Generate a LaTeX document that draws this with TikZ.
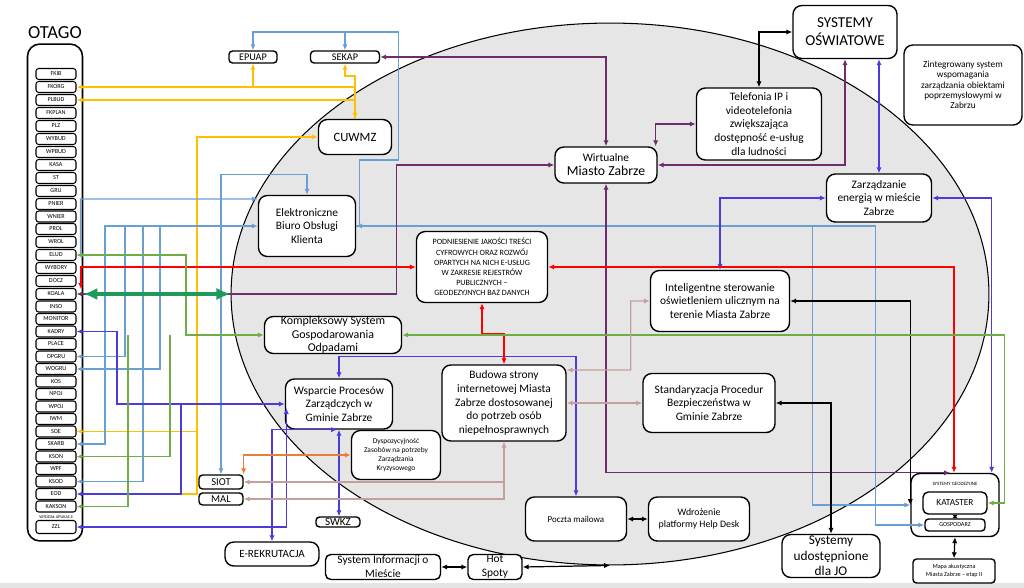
\documentclass[tikz,border=0pt]{standalone}
\usepackage{fontspec}
\setmainfont{Carlito}
\usepackage{tikz}
\usetikzlibrary{shapes.geometric,arrows.meta}

\definecolor{ellgray}{HTML}{E7E6E6}
\definecolor{bandgray}{HTML}{E4E4E4}
\definecolor{lineyel}{HTML}{FFC000}
\definecolor{lineblue}{HTML}{6A9FD4}
\definecolor{linepur}{HTML}{6E2C6B}
\definecolor{lineind}{HTML}{4B3BDB}
\definecolor{linegrn}{HTML}{70AD47}
\definecolor{linedkg}{HTML}{1E9B58}
\definecolor{linerose}{HTML}{C4A09C}
\definecolor{lineorg}{HTML}{ED7D31}

\newcommand{\fmain}{\fontsize{6.5}{7.9}\selectfont}
\newcommand{\fbig}{\fontsize{7.8}{9.2}\selectfont}
\newcommand{\fsmall}{\fontsize{5.3}{5.9}\selectfont}
\newcommand{\ftiny}{\fontsize{4.2}{5.1}\selectfont}
\newcommand{\fmini}{\fontsize{3.5}{4}\selectfont}

\begin{document}
\begin{tikzpicture}[x=0.02cm, y=-0.02cm, >={Latex[length=3.4pt,width=3pt]},
  bigbox/.style={draw, rounded corners=5pt, fill=white, align=center,
    inner sep=1pt, line width=0.8pt, font=\fmain},
  tagbox/.style={draw, rounded corners=2pt, fill=white, align=center,
    inner sep=0pt, line width=0.8pt},
  itembox/.style={draw, rounded corners=1.5pt, fill=white, minimum width=0.8cm,
    minimum height=0.22cm, inner sep=0pt, line width=0.6pt, font=\fmini},
  yl/.style={lineyel, line width=1pt},
  lb/.style={lineblue, line width=0.7pt},
  pu/.style={linepur, line width=0.7pt},
  bk/.style={black, line width=0.7pt},
  ind/.style={lineind, line width=0.8pt},
  rd/.style={red, line width=1pt},
  gr/.style={linegrn, line width=0.7pt},
  ro/.style={linerose, line width=0.7pt},
  og/.style={lineorg, line width=0.8pt},
  dg/.style={linedkg, line width=2.2pt,
    {Latex[length=8pt,width=7pt]}-{Latex[length=8pt,width=7pt]}}]

\useasboundingbox (0,0) rectangle (1024,588);
\fill[bandgray] (0,583) rectangle (1024,588);

% the big ellipse
\node (ell) [draw, ellipse, fill=ellgray, minimum width=15.16cm,
    minimum height=10.84cm, inner sep=0pt, line width=0.6pt] at (610,294) {};

% OTAGO column
\node (otagot) [font=\fontsize{10.5}{12}\selectfont] at (55,33) {OTAGO};
\node (otago) [draw, rounded corners=7pt, line width=0.9pt, minimum width=1.1cm,
    minimum height=9.94cm] at (55,292.5) {};
\foreach \nm/\yy in {FKIB/74, FKORG/87, PLBUD/100, FKPLAN/113, PLZ/126,
    WYBUD/139, WPBUD/152, KASA/165, ST/178, GRU/191, PNIER/204, WNIER/216.5,
    PROL/229, WROL/242, ELUD/255, WYBORY/268, DOCZ/281, KOALA/294,
    INSO/306.5, MONITOR/319, KADRY/331.5, PLACE/344, OPGRU/356.5, WOGRU/369,
    KOS/381.5, NPOJ/394, WPOJ/406.5, IWM/419, SOE/431.5, SKARB/444,
    KSON/456.5, WPF/469, KSOD/481.5, EOD/494, KAKSON/506.5}
  \node (o-\nm) [itembox] at (56,\yy) {\nm};
\node (zzllab) [font=\fontsize{2.4}{3}\selectfont] at (56,517) {WYDZIAŁ APLIKACJI};
\node (o-ZZL) [itembox, minimum height=0.26cm] at (56,527) {ZZL};

% boxes inside and round the ellipse
\node (wmz) [bigbox, minimum width=2.04cm, minimum height=0.72cm] at (606,165)
    {Wirtualne\\{\fbig Miasto Zabrze}};
\path (wmz)+(153,-41) node (tel) [bigbox, minimum width=2.5cm, minimum height=1.44cm]
    {Telefonia IP i\\videotelefonia\\zwiększająca\\dostępność e-usług\\dla ludności};
\path (tel)+(86,-92) node (osw) [bigbox, minimum width=2.08cm, minimum height=1.06cm,
    font=\fontsize{8.6}{10.4}\selectfont] {SYSTEMY\\OŚWIATOWE};
\path (osw)+(118,53) node (zint) [bigbox, minimum width=2.36cm, minimum height=1.6cm,
    font=\fsmall] {Zintegrowany system\\wspomagania\\zarządzania obiektami\\poprzemysłowymi w\\Zabrzu};
\path (osw)+(34,166) node (energ) [bigbox, minimum width=2.1cm, minimum height=0.96cm]
    {Zarządzanie\\energią w mieście\\Zabrze};
\path (energ)+(-159,103) node (intel) [bigbox, minimum width=2.78cm, minimum height=1.22cm]
    {Inteligentne sterowanie\\oświetleniem ulicznym na\\terenie Miasta Zabrze};
\path (intel)+(-11,102) node (stand) [bigbox, minimum width=2.64cm, minimum height=1.18cm]
    {Standaryzacja Procedur\\Bezpieczeństwa w\\Gminie Zabrze};
\path (wmz)+(-124,102) node (podn) [bigbox, minimum width=2.62cm, minimum height=1.42cm,
    font=\fontsize{4.6}{5.8}\selectfont]
    {PODNIESIENIE JAKOŚCI TREŚCI\\CYFROWYCH ORAZ ROZWÓJ\\OPARTYCH NA NICH E-USŁUG\\W ZAKRESIE REJESTRÓW\\PUBLICZNYCH –\\GEODEZYJNYCH BAZ DANYCH};
\path (podn)+(22,136) node (bud) [bigbox, minimum width=2.48cm, minimum height=1.52cm]
    {Budowa strony\\internetowej Miasta\\Zabrze dostosowanej\\do potrzeb osób\\niepełnosprawnych};
\path (podn)+(-175,-41) node (ebok) [bigbox, minimum width=1.94cm, minimum height=1.22cm]
    {Elektroniczne\\Biuro Obsługi\\Klienta};
\path (ebok)+(48,-89) node (cuwmz) [bigbox, minimum width=1.46cm, minimum height=0.7cm,
    font=\fontsize{7.2}{8}\selectfont] {CUWMZ};
\path (cuwmz)+(-10,-80) node (sekap) [tagbox, minimum width=1.38cm, minimum height=0.24cm,
    font=\fontsize{5.8}{6}\selectfont] {SEKAP};
\path (sekap)+(-92,0) node (epuap) [tagbox, minimum width=0.96cm, minimum height=0.24cm,
    font=\fontsize{5.8}{6}\selectfont] {EPUAP};
\path (ebok)+(26,109) node (ksgo) [bigbox, minimum width=2.74cm, minimum height=0.74cm,
    inner sep=0pt, font=\fontsize{6.8}{7.6}\selectfont]
    {Kompleksowy System\\Gospodarowania\\Odpadami};
\path (ksgo)+(6,69) node (wpz) [bigbox, minimum width=2.14cm, minimum height=1.0cm]
    {Wsparcie Procesów\\Zarządczych w\\Gminie Zabrze};
\path (wpz)+(57,51) node (dysp) [bigbox, minimum width=1.78cm, minimum height=0.98cm,
    font=\ftiny] {Dyspozycyjność\\Zasobów na potrzeby\\Zarządzania\\Kryzysowego};
\path (wpz)+(-118,78) node (siot) [tagbox, minimum width=0.88cm, minimum height=0.28cm,
    font=\fontsize{6}{6}\selectfont] {SIOT};
\path (siot)+(0,17) node (mal) [tagbox, minimum width=0.88cm, minimum height=0.24cm,
    font=\fontsize{6}{6}\selectfont] {MAL};
\path (wpz)+(-1,118) node (swkz) [tagbox, minimum width=0.88cm, minimum height=0.2cm,
    font=\fontsize{6.3}{6.3}\selectfont] {SWKZ};
\path (wpz)+(-67,150) node (erek) [bigbox, minimum width=1.88cm, minimum height=0.48cm,
    font=\fontsize{6.3}{7}\selectfont] {E-REKRUTACJA};
\path (erek)+(111,13) node (sim) [bigbox, rounded corners=3pt, minimum width=2.3cm,
    minimum height=0.5cm, inner sep=0pt] {System Informacji o\\Mieście};
\path (sim)+(112,0) node (hot) [bigbox, rounded corners=3pt, minimum width=1.08cm,
    minimum height=0.5cm, inner sep=0pt] {Hot\\Spoty};
\path (bud)+(72,116) node (poczta) [bigbox, minimum width=2.02cm, minimum height=0.88cm,
    font=\fontsize{5.1}{6}\selectfont] {Poczta mailowa};
\path (poczta)+(123,0) node (help) [bigbox, minimum width=2.02cm, minimum height=0.88cm,
    font=\fontsize{5.6}{7}\selectfont] {Wdrożenie\\platformy Help Desk};
\path (stand)+(122,153) node (sjo) [bigbox, minimum width=1.96cm, minimum height=0.86cm,
    inner sep=0pt, font=\fontsize{7.6}{8.8}\selectfont] {Systemy\\udostępnione\\dla JO};
\path (energ)+(76,307) node (geo) [bigbox, minimum width=1.76cm, minimum height=1.26cm] {};
\path (geo.north)+(0,11) node (geolab) [font=\fontsize{2.8}{3}\selectfont] {SYSTEMY GEODEZYJNE};
\path (geo)+(0,-2) node (kat) [tagbox, rounded corners=3pt, minimum width=1.28cm,
    minimum height=0.44cm, font=\fontsize{5.3}{6}\selectfont] {KATASTER};
\path (geo)+(0,20) node (gosp) [tagbox, minimum width=1.2cm, minimum height=0.24cm,
    font=\fontsize{3.5}{4}\selectfont] {GOSPODARZ};
\path (geo)+(-1,66) node (mapa) [tagbox, rounded corners=2pt, minimum width=1.64cm,
    minimum height=0.48cm, font=\fontsize{3.5}{4.4}\selectfont]
    {Mapa akustyczna\\Miasta Zabrze – etap II};

% vertical buses on the left
\coordinate (yv) at (197,0);
\coordinate (lb1) at (105,0);
\coordinate (lb2) at (125,0);
\coordinate (lb3) at (143,0);
\coordinate (lb4) at (160,0);
\coordinate (gv1) at (128,0);
\coordinate (gv2) at (170,0);
\coordinate (gv3) at (186,0);
\coordinate (iv1) at (117,0);
\coordinate (iv2) at (181,0);

% yellow
\draw[yl,<->] (cuwmz.north) |- (o-FKORG.east);
\draw[yl,->] (cuwmz.north |- o-PLBUD) -- (o-PLBUD.east);
\draw[yl,->] (epuap.south |- o-FKORG) -- (epuap.south);
\draw[yl,->] (cuwmz.north) -- ++(0,-43) -| (sekap.south);
\draw[yl,<-] (cuwmz.west) -| (yv |- o-EOD) -- (iv2 |- o-EOD);
\draw[yl,->] (yv |- o-SOE) -- (o-SOE.east);

% light blue
\draw[lb,<->] (o-SKARB.east) -| (lb1 |- ebok.west) -- (ebok.west);
\draw[lb,->] (lb2 |- ebok.west) |- (o-OPGRU.east);
\draw[lb,->] (lb3 |- ebok.west) |- (o-KSOD.east);
\draw[lb,->] (lb4 |- ebok.west) |- (o-WOGRU.east);
\draw[lb,<->] (o-ELUD.east) -| ++(4,-56) -- ([yshift=0.54cm]ebok.west);
\draw[lb,<->] (siot.north) |- ([yshift=0.4cm]ebok.north) -- (ebok.north);
\draw[lb,<->] (ebok.east) -- ++(3,0) |- ++(39,-66) -- ++(0,-128) -| (epuap.north);
\draw[lb,->] (sekap.north) ++(0,-19) -- (sekap.north);
\draw[lb,->] (ebok.east) -| ++(519,299) -- (gosp.west);
\draw[lb,->] (ebok.east) ++(456,0) |- (geo.west);

% purple
\draw[pu,<->] (wmz.north) |- (sekap.east);
\draw[pu,<->] (o-KOALA.east) -| ++(320,-129) -- (wmz.west);
\draw[pu,<->] (wmz.south) |- ([xshift=-0.1cm]geo.north);
\draw[pu,<->] (osw.south) |- (wmz.east);
\draw[pu,<->] (tel.west) -| ([xshift=-0.04cm]wmz.north east);

% black
\draw[bk,<->] (osw.west) -| (tel.north);
\draw[bk,<->] (intel.east) -| (geo.west);
\draw[bk,<->] (stand.east) -| (sjo.north);
\draw[bk,<->] (poczta.east) -- (help.west);
\draw[bk,<->] (sim.east) -- (hot.west);
\draw[bk,<->] (hot.east) -- (ell.south);
\draw[bk,{Latex[length=2pt,width=3pt]}-{Latex[length=2pt,width=3pt]}] (kat.south) -- (gosp.north);
\draw[bk,<->] (geo.south) -- (mapa.north);

% indigo
\draw[ind,<->] (energ.north |- osw.south) -- (energ.north);
\draw[ind,<->] (energ.west) -| (intel.north);
\draw[ind,<->] (energ.east) -| ([xshift=-0.16cm]geo.north east);
\draw[ind,<->] (poczta.north) |- ([yshift=0.44cm]wpz.north) -- (wpz.north);
\draw[ind,<->] (o-KADRY.east) -| (iv1 |- wpz.west) -- (wpz.west);
\draw[ind,->] (iv2 |- wpz.west) |- (o-EOD.east);
\draw[ind,<->] (o-ZZL.east) -| ([xshift=0.03cm,yshift=-0.08cm]wpz.west);
\draw[ind,<->] (erek.north) |- ([xshift=-0.04cm]wpz.south);
\draw[ind,<->] (wpz.south) -- (wpz.south |- swkz.north);

% red
\draw[rd,<->] (podn.west) -| ++(-335,22);
\draw[rd,<->] (podn.east) -| ([xshift=-0.02cm]geo.north);
\draw[rd,<->,line width=1.4pt] (podn.south) -- ++(0,31) -| (bud.north);

% green
\draw[gr,<->] (o-ELUD.east) -| (gv3 |- ksgo.west) -- (ksgo.west);
\draw[gr,->] (gv1 |- ksgo.west) |- (o-KAKSON.east);
\draw[gr,->] (gv2 |- ksgo.west) |- (o-KSON.east);
\draw[gr,<->] (ksgo.east) -| ++(602,168) -- (kat.east);
\draw[dg] (otago.east |- o-KOALA) -- (ell.west);

% rose and orange
\draw[ro,<->] ([yshift=0.66cm]bud.east) -| ++(64,-69) -- (intel.west);
\draw[ro,<->] (bud.east) -- (stand.west);
\draw[ro,<->] (bud.south) |- (mal.east);
\draw[ro,->] (bud.south |- siot.east) -- (siot.east);
\draw[og,<->] (dysp.west) -| (siot.north east);

\end{tikzpicture}
\end{document}
